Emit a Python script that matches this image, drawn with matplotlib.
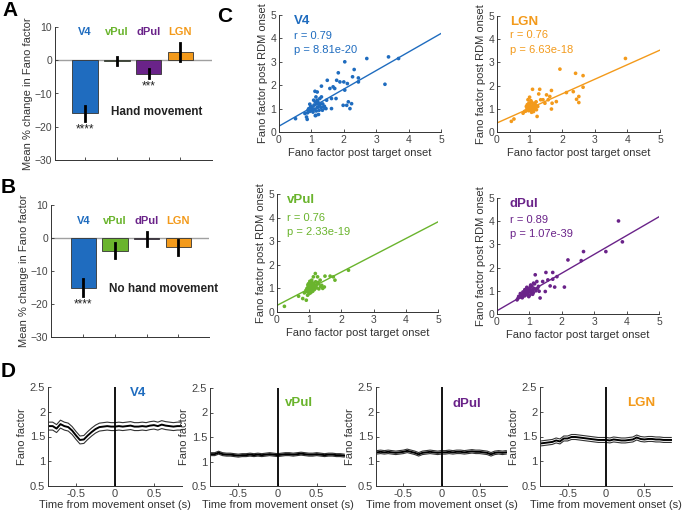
import numpy as np
import matplotlib.pyplot as plt

plt.rcParams["font.family"] = ["Liberation Sans", "DejaVu Sans"]

W, H = 685, 511

# ---- colours per region
regions = ["V4", "vPul", "dPul", "LGN"]
region_colors = ["#1f6cbf", "#6ab42d", "#6a2389", "#f39a1b"]
AX_COLOR = "#333333"

# ---- panel A / B : mean % change in Fano factor
hand_mean = [-16.0, -0.3, -4.0, 2.5]
hand_err = [2.2, 1.2, 1.3, 2.8]
hand_stars = ["****", "", "***", ""]

nohand_mean = [-15.0, -3.8, -0.2, -2.8]
nohand_err = [2.5, 2.2, 2.1, 2.3]
nohand_stars = ["****", "", "", ""]

# ---- panel C : scatter (target onset FF vs RDM onset FF)
v4_x = [0.51, 0.80, 0.85, 0.87, 0.92, 0.95, 1.00, 1.05, 1.07, 1.11, 1.14, 1.16, 1.18, 1.18,
        1.21, 1.14, 1.24, 1.26, 1.28, 1.31, 1.31, 1.34, 1.38, 1.45, 1.47, 1.49, 1.57, 1.62,
        1.62, 1.67, 1.72, 1.76, 1.78, 1.83, 1.88, 2.00, 2.03, 2.03, 1.98, 2.09, 2.11, 2.14,
        2.19, 2.24, 2.27, 2.32, 2.45, 2.45, 2.71, 3.27, 3.38, 3.69,
        0.90, 0.95, 1.00, 1.02, 1.05, 1.08, 1.10, 1.12, 1.15, 1.18, 1.20, 1.22, 1.25, 1.30,
        1.35, 0.98, 1.12, 1.40, 1.42, 0.88]
v4_y = [0.57, 0.79, 0.64, 0.54, 1.00, 1.19, 1.07, 0.93, 1.36, 1.74, 1.50, 1.21, 1.36, 1.71,
        1.07, 0.71, 0.93, 1.43, 1.21, 1.96, 1.50, 0.93, 1.07, 1.00, 1.36, 2.21, 1.86, 1.43,
        1.00, 1.93, 1.86, 1.43, 2.21, 2.53, 2.14, 2.14, 1.79, 3.00, 1.14, 1.14, 2.07, 1.29,
        1.00, 1.21, 2.36, 2.67, 2.31, 2.14, 3.14, 2.04, 3.21, 3.14,
        0.95, 0.88, 0.92, 1.05, 0.85, 1.15, 0.98, 1.28, 0.90, 1.05, 1.30, 0.75, 1.15, 1.05,
        1.20, 1.10, 0.70, 1.10, 1.02, 0.82]

lgn_x = [0.44, 0.52, 0.80, 0.85, 0.90, 0.95, 1.00, 1.09, 1.05, 1.16, 1.21, 1.23, 1.28, 1.31,
         1.34, 1.41, 1.47, 1.52, 1.57, 1.62, 1.67, 1.67, 1.69, 1.82, 1.93, 2.13, 2.34, 2.41,
         2.44, 2.51, 2.51, 2.64, 2.64, 3.94,
         0.88, 0.92, 0.95, 0.97, 1.00, 1.02, 1.03, 1.05, 1.07, 1.08, 1.10, 1.12, 1.13, 1.15,
         1.18, 1.20, 0.98, 1.04, 1.11, 1.25, 0.93, 1.06, 1.14, 1.00, 1.09, 1.17]
lgn_y = [0.46, 0.56, 0.81, 0.89, 1.10, 1.39, 1.50, 1.84, 1.10, 1.24, 0.96, 0.67, 1.64, 1.84,
         1.39, 1.39, 1.24, 1.60, 1.39, 1.53, 1.79, 0.99, 1.24, 1.31, 2.71, 1.70, 1.74, 2.53,
         1.41, 1.53, 1.27, 2.43, 1.93, 3.17,
         0.90, 1.00, 1.05, 0.92, 1.15, 1.22, 0.95, 1.08, 1.28, 1.00, 1.12, 0.88, 1.20, 1.05,
         1.15, 1.30, 1.25, 1.35, 0.95, 1.10, 1.18, 0.85, 1.02, 1.00, 1.12, 1.08]

vpul_x = [0.23, 0.67, 0.80, 0.91, 0.85, 0.95, 0.98, 1.03, 1.08, 1.13, 1.19, 1.26, 1.29, 1.34,
          1.39, 1.47, 1.49, 1.65, 1.75, 1.80, 2.22,
          0.90, 0.93, 0.95, 0.97, 0.98, 1.00, 1.00, 1.01, 1.02, 1.03, 1.04, 1.05, 1.05, 1.06,
          1.07, 1.08, 1.09, 1.10, 1.10, 1.11, 1.12, 1.13, 1.15, 1.16, 1.18, 1.20, 1.22, 1.24,
          0.96, 0.99, 1.02, 1.06, 1.09, 1.14, 1.17, 1.21, 1.27, 1.30, 1.35, 1.42]
vpul_y = [0.24, 0.67, 0.57, 0.50, 0.81, 0.71, 1.20, 1.13, 1.35, 1.49, 1.63, 1.49, 1.20, 1.35,
          1.13, 1.06, 1.52, 1.52, 1.49, 1.35, 1.77,
          0.92, 1.00, 0.85, 1.08, 0.95, 1.02, 0.78, 1.12, 0.90, 1.05, 1.18, 0.98, 0.82, 1.10,
          1.00, 1.25, 0.92, 1.05, 1.15, 0.88, 1.00, 1.22, 1.08, 0.95, 1.12, 1.28, 1.02, 1.18,
          1.15, 0.88, 1.30, 0.93, 1.20, 1.00, 1.05, 1.10, 1.25, 0.98, 1.08, 1.00]

dpul_x = [0.62, 0.67, 0.77, 0.87, 0.92, 1.03, 1.13, 1.18, 1.23, 1.28, 1.33, 1.41, 1.49, 1.51,
          1.57, 1.64, 1.72, 1.72, 1.78, 1.85, 2.08, 2.19, 2.60, 2.67, 3.36, 3.75, 3.87,
          0.65, 0.70, 0.75, 0.78, 0.82, 0.85, 0.88, 0.90, 0.93, 0.95, 0.97, 1.00, 1.00, 1.02,
          1.05, 1.07, 1.08, 1.10, 1.12, 1.15, 1.20, 0.80, 0.86, 0.92, 0.98, 1.04, 1.10, 1.16,
          1.25, 1.30, 0.72, 0.96]
dpul_y = [0.61, 0.76, 0.83, 1.04, 0.83, 1.19, 1.33, 1.69, 1.40, 1.19, 0.69, 1.40, 0.97, 1.79,
          1.47, 1.21, 1.79, 1.50, 1.16, 1.61, 1.16, 2.33, 2.30, 2.69, 2.69, 4.01, 3.11,
          0.68, 0.72, 0.80, 0.70, 0.90, 0.78, 0.95, 0.85, 1.00, 0.90, 1.08, 0.95, 0.80, 1.12,
          1.00, 0.88, 1.20, 1.05, 0.92, 1.10, 1.00, 0.95, 1.05, 1.15, 0.75, 1.25, 0.85, 1.30,
          1.10, 0.98, 0.88, 1.02]

scatter_data = {
    "V4": (v4_x, v4_y, "0.79", "8.81e-20", 0.25, 4.21),
    "LGN": (lgn_x, lgn_y, "0.76", "6.63e-18", 0.39, 3.53),
    "vPul": (vpul_x, vpul_y, "0.76", "2.33e-19", 0.28, 3.82),
    "dPul": (dpul_x, dpul_y, "0.89", "1.07e-39", 0.14, 4.19),
}

# ---- panel D : Fano factor around movement onset
time_s = [-0.85, -0.80, -0.75, -0.70, -0.65, -0.60, -0.55, -0.50, -0.45, -0.40, -0.35, -0.30,
          -0.25, -0.20, -0.15, -0.10, -0.05, 0.00, 0.05, 0.10, 0.15, 0.20, 0.25, 0.30, 0.35,
          0.40, 0.45, 0.50, 0.55, 0.60, 0.65, 0.70, 0.75, 0.80, 0.85]
ff_v4 = [1.71, 1.71, 1.66, 1.75, 1.71, 1.69, 1.62, 1.52, 1.43, 1.44, 1.52, 1.59, 1.65, 1.69,
         1.70, 1.71, 1.70, 1.70, 1.71, 1.70, 1.71, 1.72, 1.70, 1.70, 1.71, 1.70, 1.72, 1.73,
         1.71, 1.74, 1.72, 1.71, 1.70, 1.71, 1.71]
ff_vpul = [1.15, 1.15, 1.18, 1.15, 1.14, 1.14, 1.13, 1.12, 1.13, 1.13, 1.14, 1.13, 1.14, 1.13,
           1.14, 1.15, 1.14, 1.13, 1.14, 1.15, 1.15, 1.14, 1.15, 1.16, 1.15, 1.14, 1.14, 1.15,
           1.14, 1.13, 1.14, 1.14, 1.13, 1.13, 1.12]
ff_dpul = [1.18, 1.19, 1.18, 1.19, 1.18, 1.17, 1.18, 1.19, 1.21, 1.19, 1.17, 1.14, 1.17, 1.18,
           1.19, 1.18, 1.17, 1.18, 1.18, 1.19, 1.18, 1.19, 1.19, 1.18, 1.19, 1.20, 1.19, 1.19,
           1.18, 1.17, 1.14, 1.17, 1.18, 1.17, 1.18]
ff_lgn = [1.36, 1.37, 1.38, 1.39, 1.42, 1.40, 1.46, 1.46, 1.49, 1.49, 1.48, 1.47, 1.46, 1.45,
          1.44, 1.43, 1.43, 1.43, 1.42, 1.44, 1.43, 1.42, 1.42, 1.43, 1.44, 1.48, 1.45, 1.44,
          1.45, 1.45, 1.44, 1.44, 1.43, 1.43, 1.43]
ff_halfwidth = {"V4": 0.08, "vPul": 0.03, "dPul": 0.035, "LGN": 0.05}
ff_series = {"V4": ff_v4, "vPul": ff_vpul, "dPul": ff_dpul, "LGN": ff_lgn}


fig = plt.figure(figsize=(W / 100, H / 100), dpi=100)


def px_axes(left, top, right, bottom):
    return fig.add_axes([left / W, 1 - bottom / H, (right - left) / W, (bottom - top) / H])


def style_axes(ax, fs=7.5):
    for side in ["top", "right"]:
        ax.spines[side].set_visible(False)
    for side in ["left", "bottom"]:
        ax.spines[side].set_color(AX_COLOR)
        ax.spines[side].set_linewidth(0.7)
    ax.tick_params(direction="in", length=2.5, width=0.6, colors=AX_COLOR,
                   labelsize=fs, pad=2)
    for lbl in ax.get_xticklabels() + ax.get_yticklabels():
        lbl.set_color("#444444")


def bar_panel(ax, means, errs, stars, xlim, label_y, note):
    pos = [1, 2, 3, 4]
    ax.axhline(0, color="#a0a0a0", linewidth=1.0, zorder=1)
    ax.bar(pos, means, width=0.8, color=region_colors, edgecolor="#333333",
           linewidth=0.6, zorder=2)
    for p, m, e in zip(pos, means, errs):
        ax.plot([p, p], [m - e, m + e], color="black", linewidth=2.0, zorder=3)
    for p, m, e, s in zip(pos, means, errs, stars):
        if s:
            ax.text(p, m - e - 0.8, s, ha="center", va="top", fontsize=8.5, color="#222222")
    for p, name, c in zip(pos, regions, region_colors):
        ax.text(p, label_y, name, ha="center", va="center", fontsize=8,
                fontweight="bold", color=c)
    ax.text(note[0], note[1], note[2], ha="center", va="center", fontsize=8.5,
            fontweight="bold", color="#222222")
    ax.set_xlim(*xlim)
    ax.set_ylim(-30, 10)
    ax.set_yticks([-30, -20, -10, 0, 10])
    ax.set_xticks(pos)
    ax.set_xticklabels([])
    ax.set_ylabel("Mean % change in Fano factor", fontsize=8, color=AX_COLOR, labelpad=1)
    style_axes(ax)


axA = px_axes(55, 27, 212, 160)
bar_panel(axA, hand_mean, hand_err, hand_stars, (0.05, 5.0), 8.5,
          (3.25, -15.6, "Hand movement"))

axB = px_axes(51, 205, 209, 337)
bar_panel(axB, nohand_mean, nohand_err, nohand_stars, (-0.02, 4.97), 5.2,
          (3.52, -15.5, "No hand movement"))

# ---- panel C
c_boxes = {
    "V4": (279, 15, 441, 132),
    "LGN": (497, 16, 660, 132),
    "vPul": (277, 194, 438, 312),
    "dPul": (497, 198, 659, 314),
}
c_text_pos = {"V4": (0.45, 4.75, 4.1, 3.5), "LGN": (0.4, 4.73, 4.16, 3.52),
              "vPul": (0.3, 4.74, 3.97, 3.38), "dPul": (0.4, 4.75, 4.04, 3.46)}
for name, box in c_boxes.items():
    ax = px_axes(*box)
    c = region_colors[regions.index(name)]
    xs, ys, r_txt, p_txt, y0, y5 = scatter_data[name]
    ax.plot([0, 5], [y0, y5], color=c, linewidth=1.0, zorder=1)
    ax.scatter(xs, ys, s=7, color=c, edgecolors="none", zorder=2)
    tx, ty_name, ty_r, ty_p = c_text_pos[name]
    ax.text(tx, ty_name, name, color=c, fontsize=9.5, fontweight="bold", va="center")
    ax.text(tx, ty_r, "r = " + r_txt, color=c, fontsize=8, va="center")
    ax.text(tx, ty_p, "p = " + p_txt, color=c, fontsize=8, va="center")
    ax.set_xlim(0, 5)
    ax.set_ylim(0, 5)
    ax.set_xticks([0, 1, 2, 3, 4, 5])
    ax.set_yticks([0, 1, 2, 3, 4, 5])
    ax.set_xlabel("Fano factor post target onset", fontsize=8, color=AX_COLOR, labelpad=2)
    ax.set_ylabel("Fano factor post RDM onset", fontsize=8, color=AX_COLOR, labelpad=2)
    style_axes(ax)

# ---- panel D
d_boxes = {
    "V4": (48, 387, 182, 486),
    "vPul": (210, 388, 345, 486),
    "dPul": (376, 387, 507, 486),
    "LGN": (540, 387, 672, 486),
}
d_label = {"V4": (0.19, 2.38), "vPul": (0.09, 2.19), "dPul": (0.15, 2.15), "LGN": (0.27, 2.17)}
for name, box in d_boxes.items():
    ax = px_axes(*box)
    c = region_colors[regions.index(name)]
    m = np.array(ff_series[name])
    hw = ff_halfwidth[name]
    ax.plot(time_s, m + hw, color="#333333", linewidth=0.8)
    ax.plot(time_s, m - hw, color="#333333", linewidth=0.8)
    ax.plot(time_s, m, color="black", linewidth=1.4)
    ax.plot([0, 0], [0.5, 2.5], color="black", linewidth=1.3)
    ax.text(d_label[name][0], d_label[name][1], name, color=c, fontsize=9.5,
            fontweight="bold", va="center")
    ax.set_xlim(-0.86, 0.86)
    ax.set_ylim(0.5, 2.5)
    ax.set_xticks([-0.5, 0, 0.5])
    ax.set_xticklabels(["-0.5", "0", "0.5"])
    ax.set_yticks([0.5, 1, 1.5, 2, 2.5])
    ax.set_yticklabels(["0.5", "1", "1.5", "2", "2.5"])
    ax.set_xlabel("Time from movement onset (s)", fontsize=8, color=AX_COLOR, labelpad=1)
    ax.set_ylabel("Fano factor", fontsize=8, color=AX_COLOR, labelpad=2)
    style_axes(ax, fs=8)

# ---- panel letters
for letter, x, y in [("A", 2, 1), ("B", 1, 178), ("C", 217, 7), ("D", 1, 362)]:
    fig.text(x / W, 1 - y / H, letter, fontsize=15, fontweight="bold", va="top", ha="left")

fig.savefig("out.png", dpi=100)
